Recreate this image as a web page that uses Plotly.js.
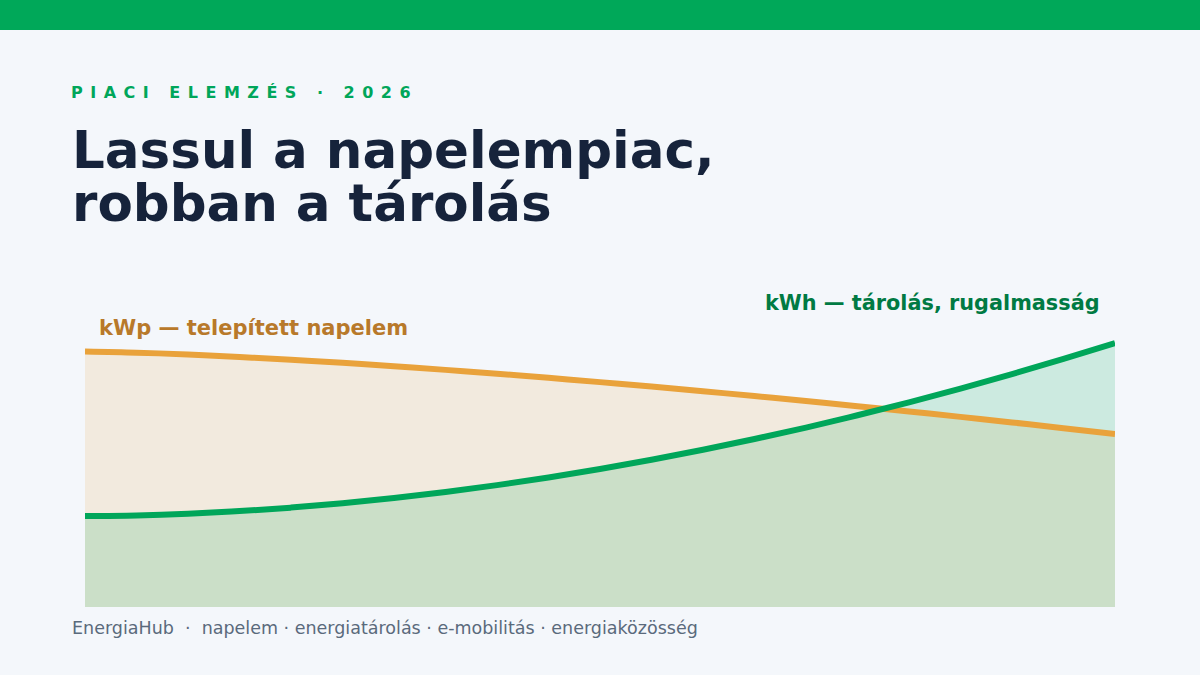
<!DOCTYPE html>
<html>
<head>
<meta charset="utf-8">
<script src="https://cdn.plot.ly/plotly-3.0.1.min.js"></script>
<style>
  html, body { margin: 0; padding: 0; background: #F4F7FB; }
  #chart { width: 1200px; height: 675px; }
</style>
</head>
<body>
<div id="chart"></div>
<script>
// időszakok (tengely nem látszik)
const periods = [0, 1, 2, 3, 4, 5, 6, 7, 8, 9, 10, 11, 12, 13, 14, 15, 16, 17, 18, 19, 20];
// kWp — telepített napelem (relatív index)
const solarKwp = [85.17, 84.79, 84.15, 83.34, 82.42, 81.38, 80.25, 79.04, 77.75, 76.39, 74.96,
                  73.47, 71.92, 70.32, 68.66, 66.95, 65.18, 63.37, 61.52, 59.61, 57.67];
// kWh — tárolás, rugalmasság (relatív index)
const storageKwh = [30.33, 30.54, 31.10, 31.96, 33.13, 34.59, 36.33, 38.35, 40.63, 43.19, 46.02,
                    49.08, 52.42, 55.99, 59.80, 63.91, 68.23, 72.82, 77.63, 82.70, 88.0];

const kicker = "PIACI ELEMZÉS · 2026";
const titleLines = ["Lassul a napelempiac,", "robban a tárolás"];
const solarLabel = "kWp — telepített napelem";
const storageLabel = "kWh — tárolás, rugalmasság";
const footer = "EnergiaHub  ·  napelem · energiatárolás · e-mobilitás · energiaközösség";

// plot terület pixelben
const W = 1200, H = 675;
const M = { l: 85, r: 85, t: 307, b: 68 };
const plotW = W - M.l - M.r;
const plotH = H - M.t - M.b;
const px = (x) => (x - M.l) / plotW;
const py = (y) => (H - M.b - y) / plotH;

const font = "DejaVu Sans, Verdana, sans-serif";

// előbb a kitöltések, utána a vonalak
function fillTrace(y, color) {
  return {
    x: periods, y: y, type: "scatter", mode: "lines",
    line: { width: 0, shape: "spline", smoothing: 1 },
    fill: "tozeroy", fillcolor: color, hoverinfo: "none",
  };
}
function lineTrace(y, color) {
  return {
    x: periods, y: y, type: "scatter", mode: "lines",
    line: { color: color, width: 6, shape: "spline", smoothing: 1 },
    hoverinfo: "none",
  };
}

const traces = [
  fillTrace(solarKwp, "rgba(232,163,61,0.15)"),
  fillTrace(storageKwh, "rgba(0,166,90,0.16)"),
  lineTrace(solarKwp, "#E9A23B"),
  lineTrace(storageKwh, "#00A65A"),
];

const annotations = [
  {
    xref: "paper", yref: "paper", x: px(69), y: py(92),
    xanchor: "left", yanchor: "middle", showarrow: false,
    text: "<b>" + kicker + "</b>",
    font: { family: font, size: 16, color: "#00A65A" },
  },
  {
    xref: "paper", yref: "paper", x: px(70), y: py(150),
    xanchor: "left", yanchor: "middle", showarrow: false,
    text: "<b>" + titleLines[0] + "</b>",
    font: { family: font, size: 51.5, color: "#16233B" },
  },
  {
    xref: "paper", yref: "paper", x: px(70), y: py(203),
    xanchor: "left", yanchor: "middle", showarrow: false,
    text: "<b>" + titleLines[1] + "</b>",
    font: { family: font, size: 51.5, color: "#16233B" },
  },
  {
    xref: "paper", yref: "paper", x: px(97), y: py(328),
    xanchor: "left", yanchor: "middle", showarrow: false,
    text: "<b>" + solarLabel + "</b>",
    font: { family: font, size: 21, color: "#B8792A" },
  },
  {
    xref: "paper", yref: "paper", x: px(1102), y: py(303),
    xanchor: "right", yanchor: "middle", showarrow: false,
    text: "<b>" + storageLabel + "</b>",
    font: { family: font, size: 20.8, color: "#007A43" },
  },
  {
    xref: "paper", yref: "paper", x: px(70), y: py(628),
    xanchor: "left", yanchor: "middle", showarrow: false,
    text: footer,
    font: { family: font, size: 17.5, color: "#5A6A7C" },
  },
];

const layout = {
  width: W,
  height: H,
  margin: M,
  paper_bgcolor: "#F4F7FB",
  plot_bgcolor: "rgba(0,0,0,0)",
  showlegend: false,
  xaxis: { visible: false, range: [periods[0], periods[periods.length - 1]], fixedrange: true },
  yaxis: { visible: false, range: [0, 100], fixedrange: true },
  shapes: [
    {
      type: "rect", xref: "paper", yref: "paper",
      x0: px(-10), x1: px(W + 10), y0: py(30), y1: py(-10),
      fillcolor: "#00A859", line: { width: 0 }, layer: "above",
    },
  ],
  annotations: annotations,
};

Plotly.newPlot("chart", traces, layout, { staticPlot: true }).then(() => {
  // betűköz a felső címkéhez, bal szél megtartásával
  document.querySelectorAll(".annotation-text").forEach((t) => {
    if (t.textContent !== kicker) return;
    const before = t.getBBox().x;
    t.style.letterSpacing = "7.5px";
    const after = t.getBBox().x;
    t.setAttribute("x", parseFloat(t.getAttribute("x") || 0) + (before - after));
  });
});
</script>
</body>
</html>
